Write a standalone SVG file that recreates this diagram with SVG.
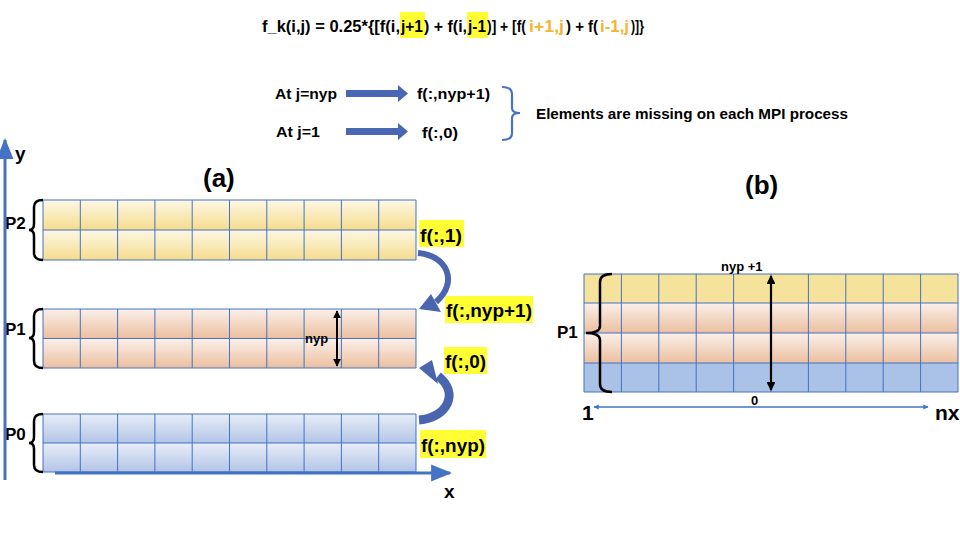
<svg xmlns="http://www.w3.org/2000/svg" width="960" height="540" viewBox="0 0 960 540">
<style>
.t{font-family:"Liberation Sans",Arial,sans-serif;font-weight:bold;fill:#000}
.grid{fill:none;stroke:#4472c4;stroke-width:1}
.brace{fill:none;stroke:#000;stroke-width:2.5}
.hl{fill:#ffff33}
</style>
<defs>
<linearGradient id="gy" x1="0" y1="0" x2="0" y2="1"><stop offset="0" stop-color="#fdf8e6"/><stop offset="1" stop-color="#f5dc8c"/></linearGradient>
<linearGradient id="go" x1="0" y1="0" x2="0" y2="1"><stop offset="0" stop-color="#fbf0ea"/><stop offset="1" stop-color="#ebbf9e"/></linearGradient>
<linearGradient id="gb" x1="0" y1="0" x2="0" y2="1"><stop offset="0" stop-color="#e8eef8"/><stop offset="1" stop-color="#b2c4e6"/></linearGradient>
<marker id="ab" viewBox="0 0 10 10" refX="9" refY="5" markerWidth="4" markerHeight="4" orient="auto-start-reverse"><path d="M0,0 L10,5 L0,10 z" fill="#000"/></marker>
<marker id="au" viewBox="0 0 10 10" refX="9" refY="5" markerWidth="4" markerHeight="4" orient="auto-start-reverse"><path d="M0,0 L10,5 L0,10 z" fill="#4472c4"/></marker>
<marker id="at" viewBox="0 0 10 10" refX="9" refY="5" markerWidth="7" markerHeight="7" orient="auto-start-reverse"><path d="M0,1 L10,5 L0,9 z" fill="#4472c4"/></marker>
</defs>
<rect width="960" height="540" fill="#fff"/>

<g id="formula">
<rect class="hl" x="400" y="12" width="25" height="26"/>
<rect class="hl" x="467" y="12" width="21" height="26"/>
<text class="t" font-size="16" y="32" x="262" textLength="138" lengthAdjust="spacingAndGlyphs">f_k(i,j) = 0.25*{[f(i,</text>
<text class="t" font-size="16" y="32" x="401" textLength="22" lengthAdjust="spacingAndGlyphs">j+1</text>
<text class="t" font-size="16" y="32" x="424" textLength="43" lengthAdjust="spacingAndGlyphs">) + f(i,</text>
<text class="t" font-size="16" y="32" x="468" textLength="18" lengthAdjust="spacingAndGlyphs">j-1</text>
<text class="t" font-size="16" y="32" x="487" textLength="39" lengthAdjust="spacingAndGlyphs">)] + [f(</text>
<text class="t" font-size="16" y="32" x="529" textLength="35" lengthAdjust="spacingAndGlyphs" style="fill:#f2b534">i+1,j</text>
<text class="t" font-size="16" y="32" x="566" textLength="32" lengthAdjust="spacingAndGlyphs">) + f(</text>
<text class="t" font-size="16" y="32" x="600" textLength="29" lengthAdjust="spacingAndGlyphs" style="fill:#f2b534">i-1,j</text>
<text class="t" font-size="16" y="32" x="631" textLength="13" lengthAdjust="spacingAndGlyphs">)]}</text>
</g>

<g id="missing-note">
<text class="t" font-size="15" x="275" y="99" textLength="62" lengthAdjust="spacingAndGlyphs">At j=nyp</text>
<text class="t" font-size="15" x="417" y="99" textLength="73" lengthAdjust="spacingAndGlyphs">f(:,nyp+1)</text>
<text class="t" font-size="15" x="276" y="137" textLength="44" lengthAdjust="spacingAndGlyphs">At j=1</text>
<text class="t" font-size="15" x="422" y="138" textLength="36" lengthAdjust="spacingAndGlyphs">f(:,0)</text>
<path d="M502,87 Q512,87 512,94 L512,108 Q512,113 520,113 Q512,113 512,118 L512,133 Q512,140 502,140" fill="none" stroke="#4472c4" stroke-width="2.2"/>
<text class="t" font-size="15" x="536" y="119" textLength="312" lengthAdjust="spacingAndGlyphs">Elements are missing on each MPI process</text>
</g>

<g id="label-a"><text class="t" font-size="26" x="203" y="187">(a)</text></g>
<g id="label-b"><text class="t" font-size="26" x="745" y="194">(b)</text></g>

<g id="P2">
<rect x="43" y="200" width="373" height="30" fill="url(#gy)"/>
<rect x="43" y="230" width="373" height="30" fill="url(#gy)"/>
<path class="grid" d="M43,200H416V260H43Z M43,230H416 M80.3,200V260 M117.6,200V260 M154.9,200V260 M192.2,200V260 M229.5,200V260 M266.8,200V260 M304.1,200V260 M341.4,200V260 M378.7,200V260"/>
<path class="brace" d="M43,200 Q34,200 34,207 L34,224 Q34,230 29,230 Q34,230 34,236 L34,253 Q34,260 43,260"/>
<text class="t" font-size="17" x="5" y="229">P2</text>
</g>

<g id="P1">
<rect x="43" y="309" width="373" height="29.5" fill="url(#go)"/>
<rect x="43" y="338.5" width="373" height="29.5" fill="url(#go)"/>
<path class="grid" d="M43,309H416V368H43Z M43,338.5H416 M80.3,309V368 M117.6,309V368 M154.9,309V368 M192.2,309V368 M229.5,309V368 M266.8,309V368 M304.1,309V368 M341.4,309V368 M378.7,309V368"/>
<path class="brace" d="M43,309 Q34,309 34,316 L34,332 Q34,338 29,338 Q34,338 34,344 L34,361 Q34,368 43,368"/>
<text class="t" font-size="17" x="5" y="335">P1</text>
<text class="t" font-size="13" x="305" y="343">nyp</text>
</g>

<g id="P0">
<rect x="43" y="414" width="373" height="29" fill="url(#gb)"/>
<rect x="43" y="443" width="373" height="29" fill="url(#gb)"/>
<path class="grid" d="M43,414H416V472H43Z M43,443H416 M80.3,414V472 M117.6,414V472 M154.9,414V472 M192.2,414V472 M229.5,414V472 M266.8,414V472 M304.1,414V472 M341.4,414V472 M378.7,414V472"/>
<path class="brace" d="M43,414 Q34,414 34,421 L34,437 Q34,443 29,443 Q34,443 34,449 L34,465 Q34,472 43,472"/>
<text class="t" font-size="17" x="5" y="440">P0</text>
</g>

<g id="halo-labels">
<rect class="hl" x="419" y="220" width="45" height="27"/>
<text class="t" font-size="18" x="420" y="242" textLength="42" lengthAdjust="spacingAndGlyphs">f(:,1)</text>
<rect class="hl" x="445" y="296" width="88" height="27"/>
<text class="t" font-size="18" x="446" y="317" textLength="86" lengthAdjust="spacingAndGlyphs">f(:,nyp+1)</text>
<rect class="hl" x="444" y="347" width="43" height="27"/>
<text class="t" font-size="18" x="445" y="368" textLength="41" lengthAdjust="spacingAndGlyphs">f(:,0)</text>
<rect class="hl" x="420" y="430" width="66" height="28"/>
<text class="t" font-size="18" x="421" y="452" textLength="64" lengthAdjust="spacingAndGlyphs">f(:,nyp)</text>
</g>

<g id="P1-extended">
<rect x="584" y="274" width="374" height="29" fill="#f6e39b"/>
<rect x="584" y="303" width="374" height="30" fill="url(#go)"/>
<rect x="584" y="333" width="374" height="30" fill="url(#go)"/>
<rect x="584" y="363" width="374" height="29" fill="#a9c2e6"/>
<path class="grid" d="M584,274H958V392H584Z M584,303H958 M584,333H958 M584,363H958 M621.4,274V392 M658.8,274V392 M696.2,274V392 M733.6,274V392 M771,274V392 M808.4,274V392 M845.8,274V392 M883.2,274V392 M920.6,274V392"/>
<path class="brace" d="M612,274 Q600,274 600,282 L600,326 Q600,333 586,333 Q600,333 600,340 L600,384 Q600,392 612,392"/>
<text class="t" font-size="17" x="557" y="338">P1</text>
<text class="t" font-size="13" x="721" y="271">nyp +1</text>
<text class="t" font-size="13" x="751" y="405">0</text>
<text class="t" font-size="21" x="582" y="420">1</text>
<text class="t" font-size="21" x="935" y="420">nx</text>
</g>

<g id="connectors">
<line x1="5" y1="480" x2="5" y2="140" stroke="#4472c4" stroke-width="3" marker-end="url(#at)"/>
<text class="t" font-size="19" x="15" y="160">y</text>
<line x1="55" y1="473" x2="450" y2="473" stroke="#4472c4" stroke-width="3" marker-end="url(#at)"/>
<text class="t" font-size="19" x="444" y="498">x</text>
<polygon points="346,90 398,90 398,85 408,93.5 398,102 398,97 346,97" fill="#4a67b3"/>
<polygon points="346,128 398,128 398,123 408,131.5 398,140 398,135 346,135" fill="#4a67b3"/>
<path d="M418,253 C447,255 459,282 436,302" fill="none" stroke="#4a65ad" stroke-width="6"/>
<polygon points="419,309 431,294 441,312" fill="#4a65ad"/>
<path d="M419,420 C447,418 460,393 438,376" fill="none" stroke="#4a65ad" stroke-width="9"/>
<polygon points="419,368 432,360 438,384" fill="#4a65ad"/>
<line x1="337" y1="311" x2="337" y2="366" stroke="#000" stroke-width="2" marker-start="url(#ab)" marker-end="url(#ab)"/>
<line x1="771" y1="276" x2="771" y2="390" stroke="#000" stroke-width="2.2" marker-start="url(#ab)" marker-end="url(#ab)"/>
<line x1="594" y1="407" x2="928" y2="407" stroke="#4472c4" stroke-width="1.3" marker-start="url(#au)" marker-end="url(#au)"/>
</g>
</svg>
